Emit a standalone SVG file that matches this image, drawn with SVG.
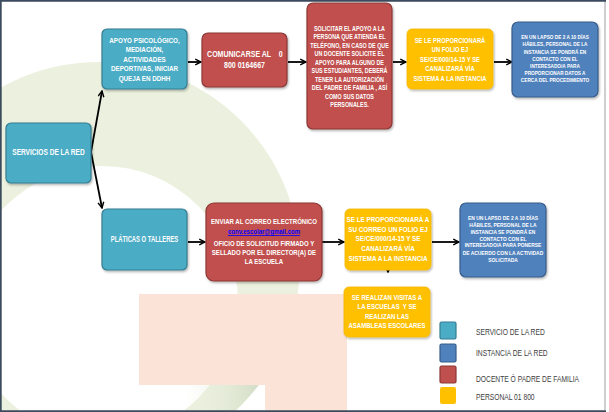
<svg xmlns="http://www.w3.org/2000/svg" width="609" height="412" viewBox="0 0 609 412">
<defs>
<style>
.t{font-family:"Liberation Sans",Arial,sans-serif;font-weight:bold;fill:#fff;text-anchor:middle}
.lg{font-family:"Liberation Sans",Arial,sans-serif;fill:#404040;font-size:8.5px}
.teal{fill:#4BACC6;stroke:#357D91;stroke-width:1.2}
.red{fill:#C0504D;stroke:#8C3836;stroke-width:1.2}
.yel{fill:#FFC000;stroke:#F5B800;stroke-width:0.8}
.blue{fill:#4F81BD;stroke:#385D8A;stroke-width:1.2}
.c{fill:none;stroke:#000;stroke-width:1.8}
</style>
<marker id="ah" viewBox="0 0 10 10" refX="9" refY="5" markerWidth="4" markerHeight="4" orient="auto" markerUnits="strokeWidth">
<path d="M1,1 L9,5 L1,9" fill="none" stroke="#000" stroke-width="2"/>
</marker>
<filter id="sh" x="-10%" y="-10%" width="130%" height="130%">
<feDropShadow dx="1" dy="1.5" stdDeviation="1" flood-color="#000" flood-opacity="0.3"/>
</filter>
<clipPath id="ringclip"><circle cx="99" cy="263" r="201"/></clipPath>
<linearGradient id="gg" x1="0" y1="0" x2="1" y2="0">
<stop offset="0" stop-color="#EBF1DE" stop-opacity="0"/>
<stop offset="1" stop-color="#CFD9C4"/>
</linearGradient>
</defs>
<rect x="0" y="0" width="609" height="412" fill="#fff"/>
<g id="background">
<circle cx="99" cy="263" r="201" fill="#EBF1DE"/>
<circle cx="102" cy="302" r="136" fill="#fff"/>
<rect x="185" y="385" width="80" height="27" fill="url(#gg)" clip-path="url(#ringclip)"/>
<path d="M139,294 H347 V412 H265 V385 H139 Z" fill="#FBE3D8"/>
</g>
<g id="frame">
<line x1="605" y1="1" x2="605" y2="410" stroke="#BFBFBF" stroke-width="1.5"/>
<path d="M0.8,0 V411.2 H606 M0,0.8 H606" fill="none" stroke="#3B4A5C" stroke-width="1.8"/>
</g>
<g id="connectors">
<path class="c" d="M91,152 L102,91" marker-end="url(#ah)"/>
<path class="c" d="M91,152 L102,208" marker-end="url(#ah)"/>
<path class="c" d="M188,62 H201" marker-end="url(#ah)"/>
<path class="c" d="M288,62 H306" marker-end="url(#ah)"/>
<path class="c" d="M393,62 H406" marker-end="url(#ah)"/>
<path class="c" d="M494,62 H512" marker-end="url(#ah)"/>
<path class="c" d="M188,242 H205" marker-end="url(#ah)"/>
<path class="c" d="M322,242 H344" marker-end="url(#ah)"/>
<path class="c" d="M432,242 H459" marker-end="url(#ah)"/>
<path class="c" d="M388,262 V272" marker-end="url(#ah)"/>
</g>
<g id="servicios">
<rect class="teal" x="6" y="123" width="85" height="60" rx="5" filter="url(#sh)"/>
<text class="t" x="48.5" y="155.5" font-size="8.25" transform="matrix(0.796,0,0,1,9.89,0)">SERVICIOS DE LA RED</text>
</g>
<g id="apoyo">
<rect class="teal" x="102" y="29" width="85" height="60" rx="5" filter="url(#sh)"/>
<text class="t" font-size="7.9" transform="matrix(0.796,0,0,1,29.48,0)"><tspan x="144.5" y="43">APOYO PSICOLÓGICO,</tspan><tspan x="144.5" y="52.5">MEDIACIÓN,</tspan><tspan x="144.5" y="62">ACTIVIDADES</tspan><tspan x="144.5" y="71.5">DEPORTIVAS, INICIAR</tspan><tspan x="144.5" y="81">QUEJA EN DDHH</tspan></text>
</g>
<g id="comunicarse">
<rect class="red" x="202" y="33" width="85" height="54" rx="6" filter="url(#sh)"/>
<text class="t" font-size="8.4" transform="matrix(0.836,0,0,1,40.1,0)"><tspan x="245" y="57.5" xml:space="preserve">COMUNICARSE AL    0</tspan><tspan x="244.5" y="68.5">800 0164667</tspan></text>
</g>
<g id="solicitar">
<rect class="red" x="307" y="3" width="85" height="126" rx="6" filter="url(#sh)"/>
<text class="t" font-size="6.8" transform="matrix(0.79,0,0,1,73.4,0)"><tspan x="349.5" y="30.8">SOLICITAR EL APOYO A LA</tspan><tspan x="349.5" y="39.3">PERSONA QUE ATIENDA EL</tspan><tspan x="349.5" y="47.8">TELÉFONO, EN CASO DE QUE</tspan><tspan x="349.5" y="56.3">UN DOCENTE SOLICITE EL</tspan><tspan x="349.5" y="64.8">APOYO PARA ALGUNO DE</tspan><tspan x="349.5" y="73.3">SUS ESTUDIANTES, DEBERÁ</tspan><tspan x="349.5" y="81.8">TENER LA AUTORIZACIÓN</tspan><tspan x="349.5" y="90.3">DEL PADRE DE FAMILIA , ASÍ</tspan><tspan x="349.5" y="98.8">COMO SUS DATOS</tspan><tspan x="349.5" y="107.3">PERSONALES.</tspan></text>
</g>
<g id="folio1">
<rect class="yel" x="407" y="29" width="86" height="60" rx="5" filter="url(#sh)"/>
<text class="t" font-size="7.7" transform="matrix(0.755,0,0,1,110.25,0)"><tspan x="450" y="43">SE LE PROPORCIONARÁ</tspan><tspan x="450" y="52.5">UN FOLIO EJ</tspan><tspan x="450" y="62">SE/CE/000/14-15 Y SE</tspan><tspan x="450" y="71.5">CANALIZARÁ VÍA</tspan><tspan x="450" y="81">SISTEMA A LA INSTANCIA</tspan></text>
</g>
<g id="instancia1">
<rect class="blue" x="512" y="22" width="86" height="75" rx="6" filter="url(#sh)"/>
<text class="t" font-size="5.8" transform="matrix(0.815,0,0,1,102.68,0)"><tspan x="555" y="39.2">EN UN LAPSO DE 2 A 10 DÍAS</tspan><tspan x="555" y="46.4">HÁBILES, PERSONAL DE LA</tspan><tspan x="555" y="53.6">INSTANCIA SE PONDRÁ EN</tspan><tspan x="555" y="60.8">CONTACTO CON EL</tspan><tspan x="555" y="68">INTERESADO/A PARA</tspan><tspan x="555" y="75.2">PROPORCIONAR DATOS A</tspan><tspan x="555" y="82.4">CERCA DEL PROCEDIMIENTO</tspan></text>
</g>
<g id="platicas">
<rect class="teal" x="102" y="209" width="85" height="61" rx="5" filter="url(#sh)"/>
<text class="t" x="144.5" y="242" font-size="8.25" transform="matrix(0.71,0,0,1,41.9,0)">PLÁTICAS O TALLERES</text>
</g>
<g id="enviar">
<rect class="red" x="206" y="203" width="116" height="78" rx="8" filter="url(#sh)"/>
<text class="t" font-size="7.9" transform="matrix(0.765,0,0,1,62.04,0)"><tspan x="264" y="224">ENVIAR AL CORREO ELECTRÓNICO</tspan><tspan x="264" y="234" fill="#0000FF" text-decoration="underline">conv.escolar@gmail.com</tspan><tspan x="264" y="246">OFICIO DE SOLICITUD FIRMADO Y</tspan><tspan x="264" y="255">SELLADO POR EL DIRECTOR(A) DE</tspan><tspan x="264" y="264">LA ESCUELA</tspan></text>
</g>
<g id="folio2">
<rect class="yel" x="345" y="209" width="86" height="61" rx="5" filter="url(#sh)"/>
<text class="t" font-size="7.8" transform="matrix(0.81,0,0,1,73.72,0)"><tspan x="388" y="222">SE LE PROPORCIONARÁ A</tspan><tspan x="388" y="231.8">SU CORREO UN FOLIO EJ</tspan><tspan x="388" y="241.5">SE/CE/000/14-15 Y SE</tspan><tspan x="388" y="251.2">CANALIZARÁ VÍA</tspan><tspan x="388" y="261">SISTEMA A LA INSTANCIA</tspan></text>
</g>
<g id="instancia2">
<rect class="blue" x="460" y="203" width="86" height="74" rx="6" filter="url(#sh)"/>
<text class="t" font-size="5.6" transform="matrix(0.875,0,0,1,62.88,0)"><tspan x="503" y="220.2">EN UN LAPSO DE 2 A 10 DÍAS</tspan><tspan x="503" y="227">HÁBILES, PERSONAL DE LA</tspan><tspan x="503" y="233.8">INSTANCIA SE PONDRÁ EN</tspan><tspan x="503" y="240.6">CONTACTO CON EL</tspan><tspan x="503" y="247.4">INTERESADO/A PARA PONERSE</tspan><tspan x="503" y="254.7">DE ACUERDO CON LA ACTIVIDAD</tspan><tspan x="503" y="262">SOLICITADA</tspan></text>
</g>
<g id="visitas">
<rect class="yel" x="344" y="287" width="86" height="50" rx="5" filter="url(#sh)"/>
<text class="t" font-size="7.7" transform="matrix(0.78,0,0,1,85.14,0)"><tspan x="387" y="300">SE REALIZAN VISITAS A</tspan><tspan x="387" y="309.5" xml:space="preserve">LA ESCUELAS  Y SE</tspan><tspan x="387" y="319">REALIZAN LAS</tspan><tspan x="387" y="328.5">ASAMBLEAS ESCOLARES</tspan></text>
</g>
<g id="legend">
<rect class="teal" x="440" y="322" width="16" height="17" rx="1.5"/>
<rect class="blue" x="440" y="344" width="16" height="18" rx="1.5"/>
<rect class="red" x="440" y="366" width="16" height="17" rx="1.5"/>
<rect x="440" y="387" width="16" height="17" rx="2" fill="#FFC000"/>
<g transform="matrix(0.79,0,0,1,99.96,0)">
<text class="lg" x="476" y="335">SERVICIO DE LA RED</text>
<text class="lg" x="476" y="356">INSTANCIA DE LA RED</text>
<text class="lg" x="476" y="382">DOCENTE Ó PADRE DE FAMILIA</text>
<text class="lg" x="476" y="400">PERSONAL 01 800</text>
</g>
</g>
</svg>
